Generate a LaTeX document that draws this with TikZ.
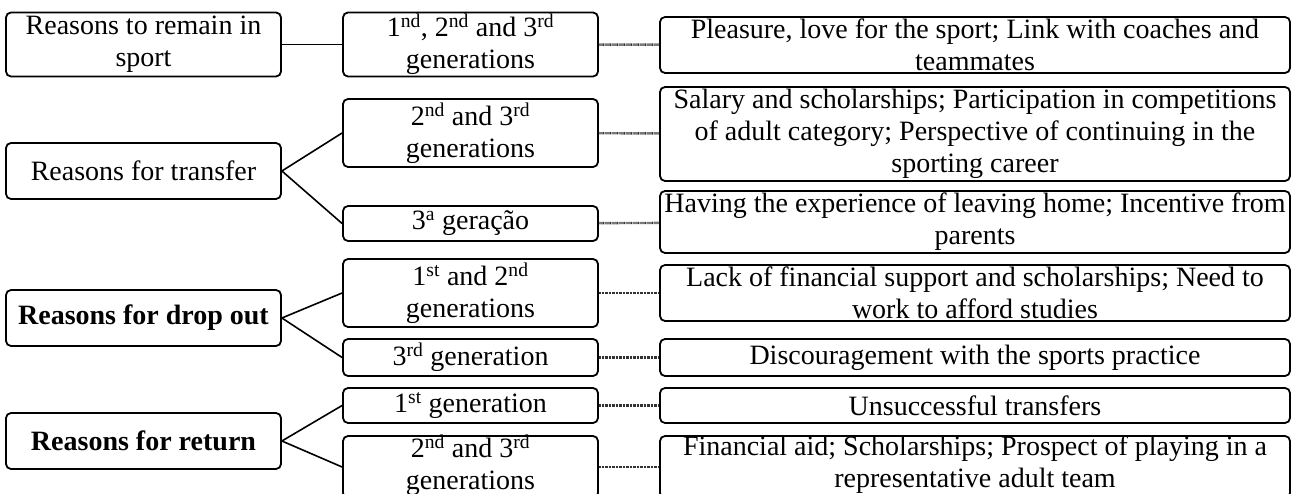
\documentclass[tikz,border=0pt]{standalone}
\usepackage{fontspec}
\setmainfont{Liberation Serif}
\usetikzlibrary{positioning}
\newcommand{\cell}[3]{\parbox[c][#2pt][c]{#1pt}{\centering #3}}

\begin{document}
\begin{tikzpicture}[x=1pt, y=-1pt,
      font=\fontsize{28}{32}\selectfont,
      box/.style={draw, rounded corners=5pt, line width=1.8pt, inner sep=0pt},
      link/.style={line width=1.6pt},
      hatch/.style={line width=2.4pt, black!80, dash pattern=on 0.8pt off 0.6pt}]
      \useasboundingbox (0,0) rectangle (1298,494);
      % remain in sport
      \node[box](l_1) at(143.5,44.5) {\cell{275}{64}{Reasons to remain in\\sport}};
      \node[box](m_1) at(470.5,44.5) {\cell{255}{64}{1\textsuperscript{nd}, 2\textsuperscript{nd} and 3\textsuperscript{rd}\\generations}};
      \node[box](r_1) at(975,45) {\cell{630}{56}{Pleasure, love for the sport; Link with coaches and\\teammates}};
      \path (l_1.east) edge[link] (m_1.west);
      \path (m_1) edge[hatch] (r_1);
      % transfer
      \node[box](l_2) at(143.5,171) {\cell{275}{56}{Reasons for transfer}};
      \node[box](m_2) at(470.5,133) {\cell{255}{68}{2\textsuperscript{nd} and 3\textsuperscript{rd}\\generations}};
      \node[box](m_3) at(470.5,223.5) {\cell{255}{35}{3\textsuperscript{a} geração}};
      \node[box](r_2) at(975,134) {\cell{630}{94}{Salary and scholarships; Participation in competitions\\of adult category; Perspective of continuing in the\\sporting career}};
      \node[box](r_3) at(975,222) {\cell{630}{62}{Having the experience of leaving home; Incentive from\\parents}};
      \path (l_2.east) edge[link] (m_2.west);
      \path (l_2.east) edge[link] (m_3.west);
      \path (m_2) edge[hatch] (r_2);
      \path (m_3) edge[hatch] (r_3);
      % drop out
      \node[box](l_3) at(143.5,318) {\cell{275}{56}{\textbf{Reasons for drop out}}};
      \node[box](m_4) at(470.5,293) {\cell{255}{68}{1\textsuperscript{st} and 2\textsuperscript{nd}\\generations}};
      \node[box](m_5) at(470.5,357.5) {\cell{255}{37}{3\textsuperscript{rd} generation}};
      \node[box](r_4) at(975,293) {\cell{630}{56}{Lack of financial support and scholarships; Need to\\work to afford studies}};
      \node[box](r_5) at(975,357.5) {\cell{630}{37}{Discouragement with the sports practice}};
      \path (l_3.east) edge[link] (m_4.west);
      \path (l_3.east) edge[link] (m_5.west);
      \path (m_4) edge[hatch] (r_4);
      \path (m_5) edge[hatch] (r_5);
      % return
      \node[box](l_4) at(143.5,441) {\cell{275}{56}{\textbf{Reasons for return}}};
      \node[box](m_6) at(470.5,405.5) {\cell{255}{35}{1\textsuperscript{st} generation}};
      \node[box](m_7) at(470.5,467) {\cell{255}{62}{2\textsuperscript{nd} and 3\textsuperscript{rd}\\generations\par\vspace{4pt}}};
      \node[box](r_6) at(975,405.5) {\cell{630}{35}{Unsuccessful transfers}};
      \node[box](r_7) at(975,467) {\cell{630}{62}{Financial aid; Scholarships;  Prospect of playing in a\\representative adult team\par\vspace{4pt}}};
      \path (l_4.east) edge[link] (m_6.west);
      \path (l_4.east) edge[link] (m_7.west);
      \path (m_6) edge[hatch] (r_6);
      \path (m_7) edge[hatch] (r_7);
  \end{tikzpicture}
\end{document}
